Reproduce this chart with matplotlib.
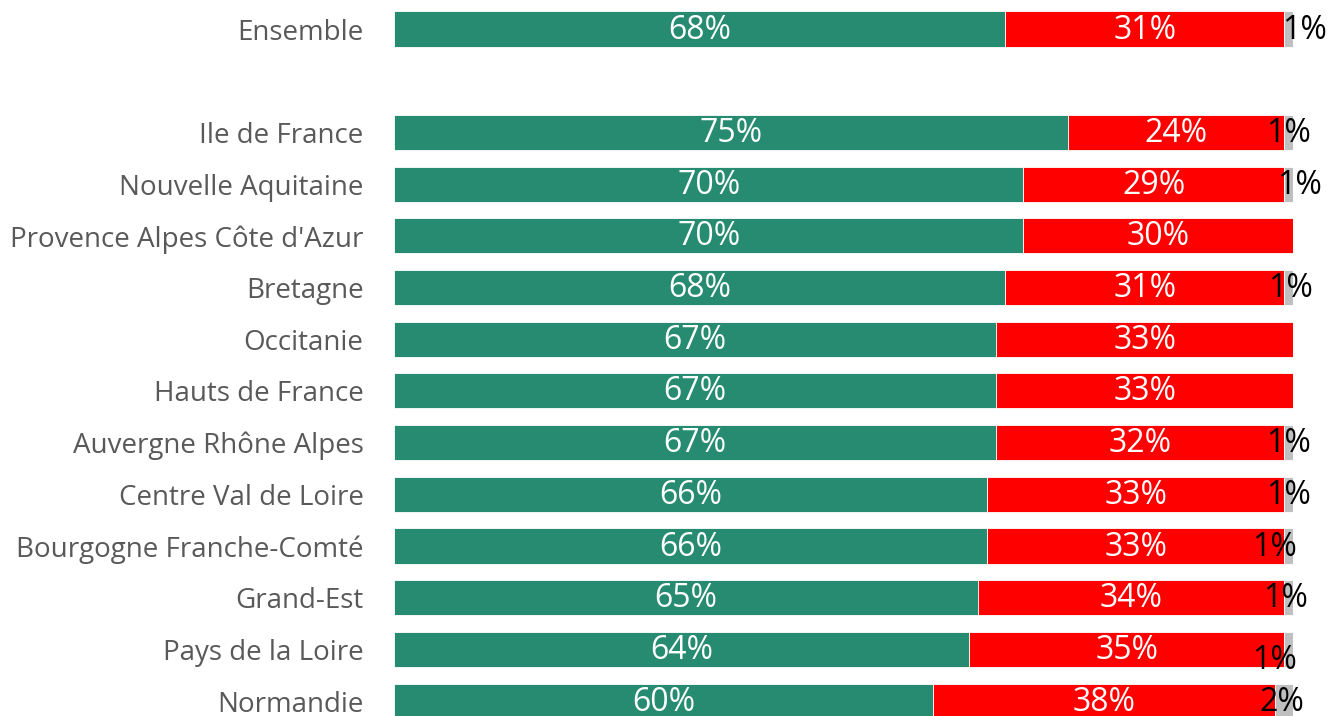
import matplotlib
matplotlib.use("Agg")
import matplotlib.pyplot as plt

# rows from top to bottom; "" is the blank spacer slot
categories = ["Ensemble", "", "Ile de France", "Nouvelle Aquitaine",
              "Provence Alpes Côte d'Azur", "Bretagne", "Occitanie",
              "Hauts de France", "Auvergne Rhône Alpes", "Centre Val de Loire",
              "Bourgogne Franche-Comté", "Grand-Est", "Pays de la Loire", "Normandie"]
green = [68, None, 75, 70, 70, 68, 67, 67, 67, 66, 66, 65, 64, 60]
red = [31, None, 24, 29, 30, 31, 33, 33, 32, 33, 33, 34, 35, 38]
grey = [1, None, 1, 1, 0, 1, 0, 0, 1, 1, 1, 1, 1, 2]

# Excel-style manual nudges of the grey labels (pixels: dx, dy)
grey_nudge = [(16, 0), None, (0, 0), (11, 0), None, (2, 0), None, None,
              (0, 0), (0, 0), (-14, 0), (-3, 0), (-14, -10), (-2, 0)]

C_GREEN = "#268B70"
C_RED = "#FF0000"
C_GREY = "#BFBFBF"
FONT = "Open Sans"

W, H = 1327, 716
fig = plt.figure(figsize=(W / 100, H / 100), dpi=100)
ax = fig.add_axes([394 / W, 0, (1293 - 394) / W, 1])

for i, (g, r, s) in enumerate(zip(green, red, grey)):
    if g is None:
        continue
    ax.barh(i, g, height=0.68, color=C_GREEN, edgecolor="white", linewidth=0.6)
    ax.barh(i, r, left=g, height=0.68, color=C_RED, edgecolor="white", linewidth=0.6)
    if s:
        ax.barh(i, s, left=g + r, height=0.68, color=C_GREY, edgecolor="white", linewidth=0.6)
    ax.text(g / 2, i + 0.02, f"{g}%", ha="center", va="center",
            color="white", fontsize=23, family=FONT)
    ax.text(g + r / 2, i + 0.02, f"{r}%", ha="center", va="center",
            color="white", fontsize=23, family=FONT)
    if s:
        dx, dy = grey_nudge[i]
        ax.annotate(f"{s}%", xy=(g + r + s / 2, i + 0.02), xytext=(dx, dy),
                    textcoords="offset pixels", ha="center", va="center",
                    color="black", fontsize=23, family=FONT)

ax.set_xlim(0, 100)
ax.set_ylim(687 / 51.7, -29 / 51.7)
ax.set_yticks(range(len(categories)))
ax.set_yticklabels(categories, fontsize=20, color="#595959", family=FONT)
ax.tick_params(axis="y", length=0, pad=22)
ax.set_xticks([])
for sp in ax.spines.values():
    sp.set_visible(False)

fig.savefig("out.png", dpi=100)
